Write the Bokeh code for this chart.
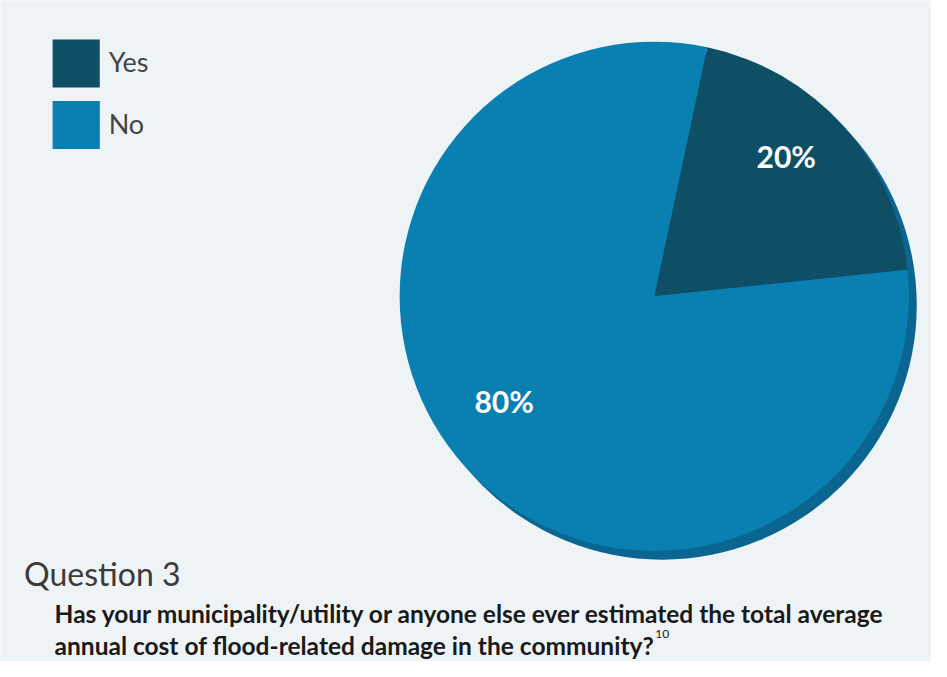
import math
from bokeh.plotting import figure
from bokeh.models import Range1d, ColumnDataSource
from bokeh.core.properties import value
from bokeh.embed import file_html
from bokeh.resources import INLINE

# ---- data ----
categories = ["Yes", "No"]
values = [20, 80]
labels = ["20%", "80%"]
title = "Question 3"
question_lines = [
    "Has your municipality/utility or anyone else ever estimated the total average",
    "annual cost of flood-related damage in the community?",
]
footnote = "10"

# ---- style ----
colors = ["#0e4f66", "#0a7fb1"]
shadow_color = "#0a6690"
bg = "#eef3f5"
W, H = 931, 661
REF_W, REF_H = 947, 677

def Y(img_y):
    return REF_H - img_y

cx, cy, R = 665, Y(303), 259
start_offset = math.radians(6)
label_shift = [math.radians(5), math.radians(-7)]
label_r = [0.76 * R, 0.72 * R]

total = sum(values)
starts, ends = [], []
acc = start_offset
for v in values:
    starts.append(acc)
    acc += 2 * math.pi * v / total
    ends.append(acc)

mids = [(s + e) / 2 + d for s, e, d in zip(starts, ends, label_shift)]
lx = [cx + r * math.cos(m) for r, m in zip(label_r, mids)]
ly = [cy + r * math.sin(m) for r, m in zip(label_r, mids)]

src = ColumnDataSource(dict(cat=categories, val=values, start=starts, end=ends,
                            color=colors, lx=lx, ly=ly, lab=labels))

p = figure(width=W, height=H, x_range=Range1d(0, REF_W), y_range=Range1d(0, REF_H),
           output_backend="svg", toolbar_location=None, min_border=0)
p.axis.visible = False
p.grid.visible = False
p.outline_line_color = None
p.background_fill_color = bg
p.border_fill_color = bg

# shadow rim (pseudo 3D)
p.circle(x=[cx + 8], y=[cy - 9], radius=R, fill_color=shadow_color, line_color=None)

p.wedge(x=cx, y=cy, radius=R, start_angle="start", end_angle="end",
        fill_color="color", line_color=None, source=src)

p.text(x="lx", y="ly", text="lab", source=src, text_color="white",
       text_font=value("Lato"), text_font_style="bold", text_font_size="30px",
       text_align="center", text_baseline="middle")

# legend
leg_y = [Y(64.5), Y(127.5)]
p.rect(x=[77, 77], y=leg_y, width=48, height=49, fill_color=colors, line_color=None)
p.text(x=[110, 110], y=[Y(62), Y(126)], text=categories, text_color="#444444",
       text_font=value("Lato"), text_font_style="normal", text_font_size="27px",
       text_align="left", text_baseline="middle")

# title and question
p.text(x=[24], y=[Y(587)], text=[title], text_color="#3a3a3a",
       text_font=value("Lato"), text_font_size="32px",
       text_align="left", text_baseline="alphabetic")
p.text(x=[55, 55], y=[Y(628), Y(661)], text=question_lines, text_color="#1a1a1a",
       text_font=value("Lato"), text_font_style="bold", text_font_size="24.5px",
       text_align="left", text_baseline="alphabetic")
p.text(x=[666], y=[Y(649)], text=[footnote], text_color="#1a1a1a",
       text_font=value("Lato"), text_font_style="normal", text_font_size="12px",
       text_align="left", text_baseline="alphabetic")

open("out.html", "w").write(file_html(p, INLINE))
